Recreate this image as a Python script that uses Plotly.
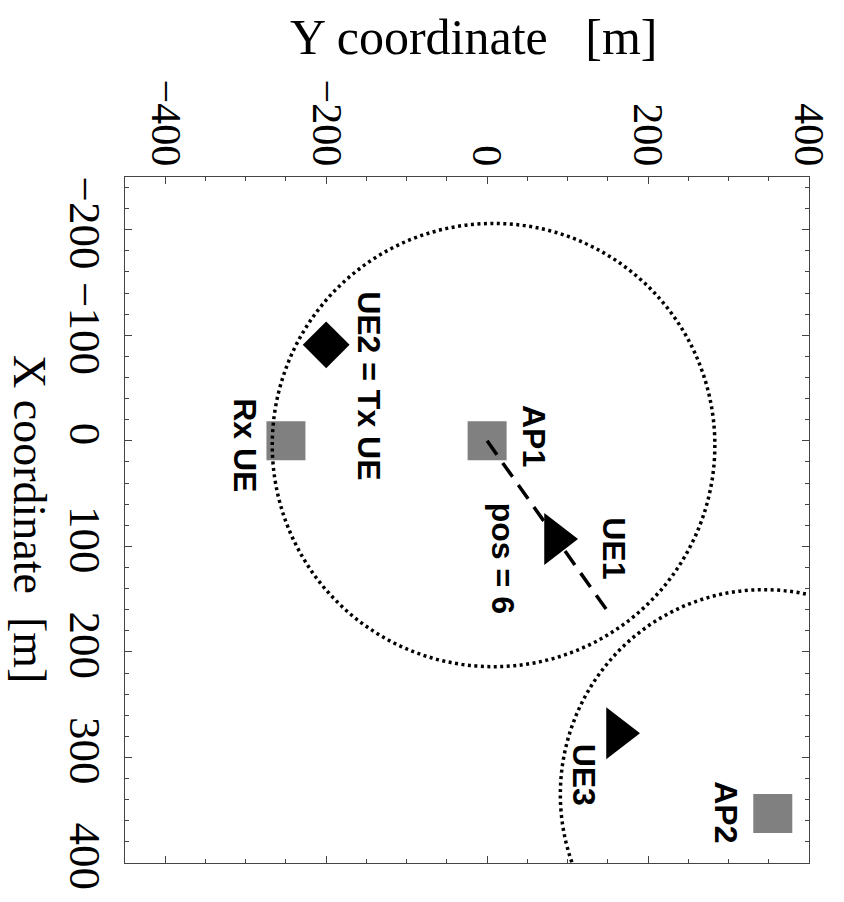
import plotly.graph_objects as go

# ---- data (rotated view: horizontal = Y coordinate, vertical = X coordinate) ----
ap_names = ["AP1", "AP2"]
ap_ycoord = [0, 355]
ap_xcoord = [0, 353]

rx_ycoord = [-250]
rx_xcoord = [0]

tx_ycoord = [-200]
tx_xcoord = [-91]

ue_names = ["UE1", "UE3"]
ue_ycoord = [85, 162]
ue_xcoord = [93, 277]

path_ycoord = [0, 153]
path_xcoord = [0, 165]

circle_center_y = [8, 344]
circle_center_x = [4, 335]
circle_radius_y = [275, 253]
circle_radius_x = [210, 194]

label_text = ["UE2 = Tx UE", "Rx UE", "AP1", "pos = 6", "UE1", "UE3", "AP2"]
label_ycoord = [-147, -301, 59, 20, 158, 120, 297]
label_xcoord = [-52, 4, -5, 111, 102, 316, 352]

y_ticks = [-400, -200, 0, 200, 400]
x_ticks = [-200, -100, 0, 100, 200, 300, 400]

fig = go.Figure()

# circles
for cy, cx, ry, rx in zip(circle_center_y, circle_center_x, circle_radius_y, circle_radius_x):
    fig.add_shape(type="circle", xref="x", yref="y",
                  x0=cy - ry, x1=cy + ry, y0=cx - rx, y1=cx + rx,
                  line=dict(color="black", width=3.5, dash="3px,3.5px"), layer="above")

# squares: APs and Rx UE
fig.add_trace(go.Scatter(x=ap_ycoord, y=ap_xcoord, mode="markers",
                         marker=dict(symbol="square", size=39, color="#808080", line=dict(width=0))))
fig.add_trace(go.Scatter(x=rx_ycoord, y=rx_xcoord, mode="markers",
                         marker=dict(symbol="square", size=39, color="#808080", line=dict(width=0))))
# dashed path
fig.add_trace(go.Scatter(x=path_ycoord, y=path_xcoord, mode="lines",
                         line=dict(color="black", width=3.5, dash="17px,10px")))
# Tx UE diamond
fig.add_trace(go.Scatter(x=tx_ycoord, y=tx_xcoord, mode="markers",
                         marker=dict(symbol="diamond", size=36, color="black", line=dict(width=0))))
# UE triangles
fig.add_trace(go.Scatter(x=ue_ycoord, y=ue_xcoord, mode="markers",
                         marker=dict(symbol="triangle-right", size=45, color="black", line=dict(width=0))))

for t, yy, xx in zip(label_text, label_ycoord, label_xcoord):
    fig.add_annotation(x=yy, y=xx, xref="x", yref="y", text="<b>%s</b>" % t,
                       textangle=90, showarrow=False, xanchor="center", yanchor="middle",
                       font=dict(family="Liberation Sans", size=32, color="black"))

# axis titles
fig.add_annotation(x=0.510, y=1.2038, xref="paper", yref="paper",
                   xanchor="center", yanchor="middle",
                   text="Y coordinate\u00a0\u00a0\u00a0[m]", showarrow=False,
                   font=dict(family="Liberation Serif", size=50, color="black"))
fig.add_annotation(x=-0.1395, y=0.502, xref="paper", yref="paper",
                   xanchor="center", yanchor="middle",
                   text="X coordinate\u00a0\u00a0[m]", showarrow=False, textangle=90,
                   font=dict(family="Liberation Serif", size=46, color="black"))

axcol = "#444444"
fig.update_xaxes(range=[-450, 400], side="top", tickmode="array", tickvals=y_ticks,
                 ticks="inside", ticklen=7, tickcolor=axcol, tickwidth=1,
                 showline=True, linecolor=axcol, linewidth=1, mirror="ticks",
                 showgrid=False, zeroline=False, tickangle=90, ticklabelstandoff=-5,
                 tickfont=dict(family="Liberation Serif", size=42, color="black"),
                 minor=dict(ticks="inside", tickmode="linear", tick0=0, dtick=50,
                            ticklen=4, tickcolor=axcol, showgrid=False))
fig.update_yaxes(range=[400, -250], tickmode="array", tickvals=x_ticks,
                 ticks="inside", ticklen=7, tickcolor=axcol, tickwidth=1,
                 showline=True, linecolor=axcol, linewidth=1, mirror="ticks",
                 showgrid=False, zeroline=False, tickangle=90,
                 tickfont=dict(family="Liberation Serif", size=45, color="black"),
                 minor=dict(ticks="inside", tickmode="linear", tick0=0, dtick=20,
                            ticklen=4, tickcolor=axcol, showgrid=False))

fig.update_layout(width=844, height=902, margin=dict(l=125, r=31, t=177, b=38),
                  plot_bgcolor="white", paper_bgcolor="white", showlegend=False)

fig.write_html("out.html")
